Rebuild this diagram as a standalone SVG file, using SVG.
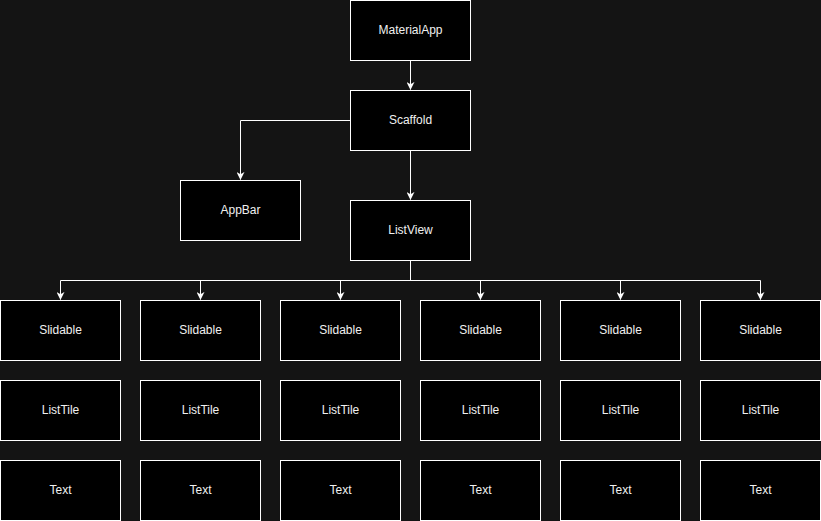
<svg xmlns="http://www.w3.org/2000/svg" width="821" height="521" viewBox="0 0 821 521">
<style>
.n rect{fill:#000000;stroke:#ffffff;stroke-width:1}
.n text{fill:#f0f0f0;font-family:"Liberation Sans",Arial,sans-serif;font-size:12px;text-anchor:middle;dominant-baseline:central}
.e path{fill:none;stroke:#ffffff;stroke-width:1}
</style>
<defs>
<marker id="arr" viewBox="0 0 10 10" refX="9.5" refY="5" markerWidth="8" markerHeight="8" markerUnits="userSpaceOnUse" orient="auto">
<path d="M0,0 L10,5 L0,10 L3,5 Z" fill="#ffffff"/>
</marker>
</defs>
<rect x="0" y="0" width="821" height="521" fill="#141414"/>
<g class="e" id="connectors">
<path d="M410.5,60.5 V89.5" marker-end="url(#arr)"/>
<path d="M410.5,150.5 V199.5" marker-end="url(#arr)"/>
<path d="M350.5,120.5 H240.5 V179.5" marker-end="url(#arr)"/>
<path d="M410.5,260.5 V280.5 H60.5 V299.5" marker-end="url(#arr)"/>
<path d="M410.5,280.5 H200.5 V299.5" marker-end="url(#arr)"/>
<path d="M410.5,280.5 H340.5 V299.5" marker-end="url(#arr)"/>
<path d="M410.5,280.5 H480.5 V299.5" marker-end="url(#arr)"/>
<path d="M410.5,280.5 H620.5 V299.5" marker-end="url(#arr)"/>
<path d="M410.5,280.5 H760.5 V299.5" marker-end="url(#arr)"/>
</g>
<g class="n" id="materialapp"><rect x="350.5" y="0.5" width="120" height="60"/><text x="410.5" y="29.5">MaterialApp</text></g>
<g class="n" id="scaffold"><rect x="350.5" y="90.5" width="120" height="60"/><text x="410.5" y="119.5">Scaffold</text></g>
<g class="n" id="appbar"><rect x="180.5" y="180.5" width="120" height="60"/><text x="240.5" y="209.5">AppBar</text></g>
<g class="n" id="listview"><rect x="350.5" y="200.5" width="120" height="60"/><text x="410.5" y="229.5">ListView</text></g>
<g class="n" id="slidable1"><rect x="0.5" y="300.5" width="120" height="60"/><text x="60.5" y="329.5">Slidable</text></g>
<g class="n" id="slidable2"><rect x="140.5" y="300.5" width="120" height="60"/><text x="200.5" y="329.5">Slidable</text></g>
<g class="n" id="slidable3"><rect x="280.5" y="300.5" width="120" height="60"/><text x="340.5" y="329.5">Slidable</text></g>
<g class="n" id="slidable4"><rect x="420.5" y="300.5" width="120" height="60"/><text x="480.5" y="329.5">Slidable</text></g>
<g class="n" id="slidable5"><rect x="560.5" y="300.5" width="120" height="60"/><text x="620.5" y="329.5">Slidable</text></g>
<g class="n" id="slidable6"><rect x="700.5" y="300.5" width="120" height="60"/><text x="760.5" y="329.5">Slidable</text></g>
<g class="n" id="listtile1"><rect x="0.5" y="380.5" width="120" height="60"/><text x="60.5" y="409.5">ListTile</text></g>
<g class="n" id="listtile2"><rect x="140.5" y="380.5" width="120" height="60"/><text x="200.5" y="409.5">ListTile</text></g>
<g class="n" id="listtile3"><rect x="280.5" y="380.5" width="120" height="60"/><text x="340.5" y="409.5">ListTile</text></g>
<g class="n" id="listtile4"><rect x="420.5" y="380.5" width="120" height="60"/><text x="480.5" y="409.5">ListTile</text></g>
<g class="n" id="listtile5"><rect x="560.5" y="380.5" width="120" height="60"/><text x="620.5" y="409.5">ListTile</text></g>
<g class="n" id="listtile6"><rect x="700.5" y="380.5" width="120" height="60"/><text x="760.5" y="409.5">ListTile</text></g>
<g class="n" id="text1"><rect x="0.5" y="460.5" width="120" height="60"/><text x="60.5" y="489.5">Text</text></g>
<g class="n" id="text2"><rect x="140.5" y="460.5" width="120" height="60"/><text x="200.5" y="489.5">Text</text></g>
<g class="n" id="text3"><rect x="280.5" y="460.5" width="120" height="60"/><text x="340.5" y="489.5">Text</text></g>
<g class="n" id="text4"><rect x="420.5" y="460.5" width="120" height="60"/><text x="480.5" y="489.5">Text</text></g>
<g class="n" id="text5"><rect x="560.5" y="460.5" width="120" height="60"/><text x="620.5" y="489.5">Text</text></g>
<g class="n" id="text6"><rect x="700.5" y="460.5" width="120" height="60"/><text x="760.5" y="489.5">Text</text></g>
</svg>
